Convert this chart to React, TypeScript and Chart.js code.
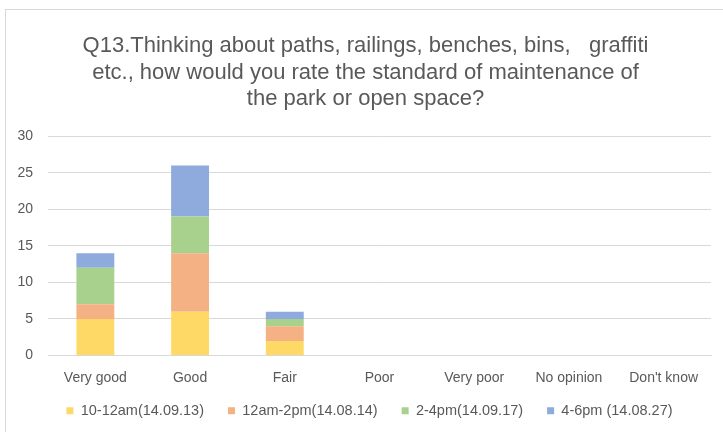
import React, { useEffect, useRef } from "react";
import { Chart, registerables } from "chart.js";

Chart.register(...registerables);

const categories = ["Very good", "Good", "Fair", "Poor", "Very poor", "No opinion", "Don't know"];
const seriesNames = ["10-12am(14.09.13)", "12am-2pm(14.08.14)", "2-4pm(14.09.17)", "4-6pm (14.08.27)"];
const s1012 = [5, 6, 2, 0, 0, 0, 0];
const s122 = [2, 8, 2, 0, 0, 0, 0];
const s24 = [5, 5, 1, 0, 0, 0, 0];
const s46 = [2, 7, 1, 0, 0, 0, 0];
const colors = ["#FFD966", "#F4B183", "#A9D18E", "#8FAADC"];
const titleLines = [
  "Q13.Thinking about paths, railings, benches, bins,   graffiti",
  "etc., how would you rate the standard of maintenance of",
  "the park or open space?",
];
const FONT = "'Liberation Sans', Arial, sans-serif";
const LEGEND_PAD = 24;

// Shifts the title and legend boxes to sit like the reference (centered on the whole frame)
const nudge = {
  id: "nudge",
  beforeLayout(chart: any) {
    const lg = chart.legend;
    if (lg && !lg.__patched) {
      const orig = lg.fit;
      lg.fit = function () {
        orig.call(this);
        this.height -= LEGEND_PAD - 16;
      };
      lg.__patched = true;
    }
  },
  afterLayout(chart: any) {
    const t = chart.titleBlock;
    if (t) {
      t.left += 7;
      t.right += 7;
    }
    const lg = chart.legend;
    if (lg) {
      lg.left += 11;
      lg.right += 11;
      lg.top -= LEGEND_PAD - 16 - 1;
      lg.bottom -= LEGEND_PAD - 16 - 1;
    }
  },
};

export default function App() {
  const ref = useRef<HTMLCanvasElement | null>(null);
  useEffect(() => {
    if (!ref.current) return;
    const all = [s1012, s122, s24, s46];
    const chart = new Chart(ref.current, {
      type: "bar",
      data: {
        labels: categories,
        datasets: all.map((d, i) => ({
          label: seriesNames[i],
          data: d,
          backgroundColor: colors[i],
          borderWidth: 0,
          categoryPercentage: 1,
          barPercentage: 0.4,
        })),
      },
      options: {
        animation: false,
        responsive: false,
        maintainAspectRatio: false,
        layout: { padding: { left: 0, right: 15, top: 0, bottom: 8 } },
        plugins: {
          title: {
            display: true,
            text: titleLines,
            color: "#595959",
            font: { family: FONT, size: 22, weight: "normal", lineHeight: 1.2 },
            padding: { top: 23, bottom: 24 },
          },
          legend: {
            position: "bottom",
            labels: {
              color: "#595959",
              font: { family: FONT, size: 14.5 },
              boxWidth: 7,
              boxHeight: 7,
              padding: LEGEND_PAD,
            },
          },
          tooltip: { enabled: false },
        },
        scales: {
          x: {
            stacked: true,
            grid: { display: false },
            border: { display: true, color: "#d9d9d9" },
            ticks: { color: "#595959", font: { family: FONT, size: 14 }, padding: 6, maxRotation: 0 },
            afterFit: (s: any) => {
              s.height = 31;
            },
          },
          y: {
            stacked: true,
            min: 0,
            max: 30,
            grid: { color: "#d9d9d9", drawTicks: false },
            border: { display: false },
            ticks: { stepSize: 5, color: "#595959", font: { family: FONT, size: 14 }, padding: 15 },
            afterFit: (s: any) => {
              s.width = 42;
            },
          },
        },
      },
      plugins: [nudge],
    });
    return () => chart.destroy();
  }, []);
  return (
    <div
      style={{
        position: "fixed",
        left: 5,
        top: 9,
        width: 720,
        height: 430,
        border: "1px solid #d9d9d9",
        background: "#fff",
      }}
    >
      <canvas ref={ref} width={720} height={425} style={{ display: "block" }} />
    </div>
  );
}
